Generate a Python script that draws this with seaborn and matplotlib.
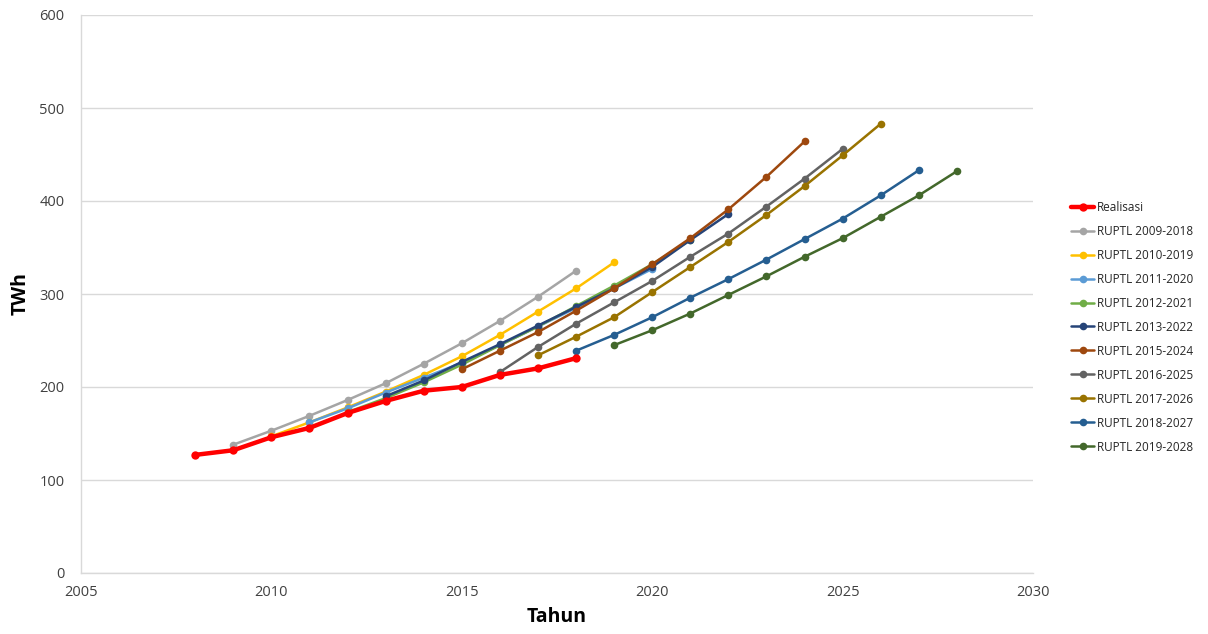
import matplotlib
matplotlib.use("Agg")
import matplotlib.pyplot as plt
import seaborn as sns
import pandas as pd

# ---- data ----
realisasi_years = [2008, 2009, 2010, 2011, 2012, 2013, 2014, 2015, 2016, 2017, 2018]
realisasi = [127, 132, 146, 156, 172, 185, 196, 200, 213, 220, 231]

r2009_years = list(range(2009, 2019))
r2009 = [138, 153, 169, 186, 204, 225, 247, 271, 297, 325]

r2010_years = list(range(2010, 2020))
r2010 = [147, 162, 178, 195, 213, 233, 256, 281, 306, 334]

r2011_years = list(range(2011, 2021))
r2011 = [162, 177, 194, 210, 226, 245, 265, 285, 306, 327]

r2012_years = list(range(2012, 2022))
r2012 = [173, 188, 205, 224, 245, 265, 287, 309, 332, 358]

r2013_years = list(range(2013, 2023))
r2013 = [190, 207, 227, 246, 266, 286, 306, 329, 358, 386]

r2015_years = list(range(2015, 2025))
r2015 = [219, 239, 259, 282, 306, 332, 360, 391, 426, 464]

r2016_years = list(range(2016, 2026))
r2016 = [216, 243, 268, 291, 314, 340, 365, 394, 424, 456]

r2017_years = list(range(2017, 2027))
r2017 = [234, 254, 275, 302, 329, 356, 385, 416, 449, 483]

r2018_years = list(range(2018, 2028))
r2018 = [239, 256, 275, 296, 316, 337, 359, 381, 406, 433]

r2019_years = list(range(2019, 2029))
r2019 = [245, 261, 279, 299, 319, 340, 360, 383, 406, 432]

series_names = ["Realisasi", "RUPTL 2009-2018", "RUPTL 2010-2019", "RUPTL 2011-2020",
                "RUPTL 2012-2021", "RUPTL 2013-2022", "RUPTL 2015-2024", "RUPTL 2016-2025",
                "RUPTL 2017-2026", "RUPTL 2018-2027", "RUPTL 2019-2028"]
series_years = [realisasi_years, r2009_years, r2010_years, r2011_years, r2012_years,
                r2013_years, r2015_years, r2016_years, r2017_years, r2018_years, r2019_years]
series_vals = [realisasi, r2009, r2010, r2011, r2012, r2013, r2015, r2016, r2017, r2018, r2019]
colors = ["#FF0000", "#A5A5A5", "#FFC000", "#5B9BD5", "#70AD47", "#264478",
          "#9E480E", "#636363", "#997300", "#255E91", "#43682B"]

x_ticks = [2005, 2010, 2015, 2020, 2025, 2030]
y_ticks = [0, 100, 200, 300, 400, 500, 600]

# ---- plot ----
sns.set_theme(style="white")
plt.rcParams['font.family'] = ['Open Sans', 'DejaVu Sans']

fig = plt.figure(figsize=(12.08, 6.34), dpi=100)
ax = fig.add_axes([81/1208, 1 - 573/634, (1033-81)/1208, (573-15)/634])

frames = []
for name, yrs, vals in zip(series_names, series_years, series_vals):
    frames.append(pd.DataFrame({"Tahun": yrs, "TWh": vals, "series": name}))
df = pd.concat(frames, ignore_index=True)

for i, (name, col) in enumerate(zip(series_names, colors)):
    sub = df[df["series"] == name]
    is_real = name == "Realisasi"
    sns.lineplot(data=sub, x="Tahun", y="TWh", ax=ax, color=col, marker="o",
                 linewidth=3.2 if is_real else 1.8,
                 markersize=6 if is_real else 5.5,
                 markeredgewidth=0, label=name,
                 zorder=10 if is_real else 3 + i * 0.1)

ax.set_xlim(2005, 2030)
ax.set_ylim(0, 600)
ax.set_xticks(x_ticks)
ax.set_yticks(y_ticks)
ax.tick_params(axis="both", labelsize=10.5, length=0, colors="#404040")
ax.tick_params(axis="x", pad=9)
ax.tick_params(axis="y", pad=12)
ax.yaxis.grid(True, color="#D9D9D9", linewidth=1)
ax.xaxis.grid(False)
for s in ["top", "right"]:
    ax.spines[s].set_visible(False)
for s in ["left", "bottom"]:
    ax.spines[s].set_color("#D9D9D9")
    ax.spines[s].set_linewidth(1)

ax.set_xlabel("Tahun", fontsize=14, fontweight="bold", color="#000000", labelpad=5)
ax.set_ylabel("TWh", fontsize=14, fontweight="bold", color="#000000", labelpad=6)

h, l = ax.get_legend_handles_labels()
ax.get_legend().remove()
fig.legend(h, l, loc="upper left", bbox_to_anchor=(1066/1208, 1 - 196/634),
           frameon=False, fontsize=8.5, labelspacing=0.93, handlelength=2.0,
           handletextpad=0.25, borderaxespad=0)

fig.savefig("out.png", dpi=100)
